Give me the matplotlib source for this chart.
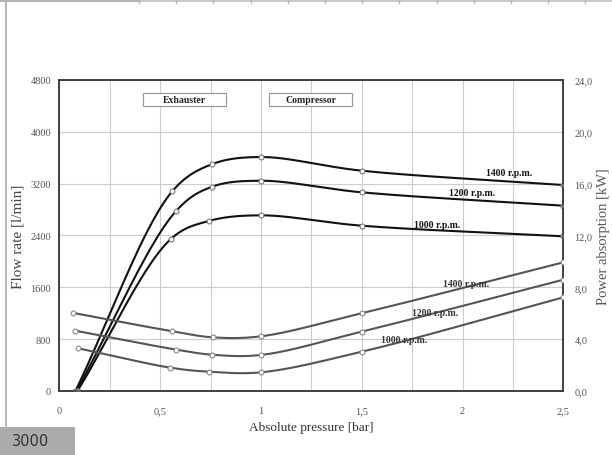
import numpy as np
import matplotlib
matplotlib.use("Agg")
import matplotlib.pyplot as plt
from matplotlib.patches import Rectangle
from matplotlib.lines import Line2D

# ---------------- data ----------------
speeds = ["1400 r.p.m.", "1200 r.p.m.", "1000 r.p.m."]

flow_x = {
    "1400": [0.08, 0.56, 0.755, 1.0, 1.5, 2.5],
    "1200": [0.085, 0.58, 0.755, 1.0, 1.5, 2.5],
    "1000": [0.09, 0.553, 0.74, 1.0, 1.5, 2.5],
}
flow_y = {
    "1400": [0, 3082, 3498, 3611, 3400, 3179],
    "1200": [0, 2782, 3150, 3245, 3066, 2860],
    "1000": [0, 2346, 2623, 2711, 2551, 2387],
}
power_x = {
    "1400": [0.07, 0.56, 0.76, 1.0, 1.5, 2.5],
    "1200": [0.08, 0.58, 0.757, 1.0, 1.5, 2.5],
    "1000": [0.094, 0.55, 0.74, 1.0, 1.5, 2.5],
}
power_y = {
    "1400": [6.02, 4.61, 4.14, 4.22, 6.00, 9.93],
    "1200": [4.65, 3.19, 2.80, 2.78, 4.58, 8.59],
    "1000": [3.29, 1.80, 1.49, 1.44, 3.03, 7.23],
}
flow_label_pos = {"1400": (2.23, 3375), "1200": (2.045, 3056), "1000": (1.875, 2562)}
power_label_pos = {"1400": (2.017, 8.26), "1200": (1.863, 6.02), "1000": (1.709, 4.01)}

x_ticks = [0, 0.5, 1, 1.5, 2, 2.5]
x_ticklabels = ["0", "0,5", "1", "1,5", "2", "2,5"]
left_ticks = [0, 800, 1600, 2400, 3200, 4000, 4800]
right_ticks = [0, 4, 8, 12, 16, 20, 24]
right_ticklabels = ["0,0", "4,0", "8,0", "12,0", "16,0", "20,0", "24,0"]


def smooth(x, y, sx, sy, n=40, alpha=0.5):
    """Centripetal Catmull-Rom smoothing in scaled (pixel-like) space."""
    P = np.column_stack([np.asarray(x, float) * sx, np.asarray(y, float) * sy])
    P = np.vstack([2 * P[0] - P[1], P, 2 * P[-1] - P[-2]])
    out = []
    for i in range(1, len(P) - 2):
        p0, p1, p2, p3 = P[i - 1], P[i], P[i + 1], P[i + 2]
        t0 = 0.0
        t1 = t0 + np.linalg.norm(p1 - p0) ** alpha
        t2 = t1 + np.linalg.norm(p2 - p1) ** alpha
        t3 = t2 + np.linalg.norm(p3 - p2) ** alpha
        t = np.linspace(t1, t2, n)[:, None]
        a1 = (t1 - t) / (t1 - t0) * p0 + (t - t0) / (t1 - t0) * p1
        a2 = (t2 - t) / (t2 - t1) * p1 + (t - t1) / (t2 - t1) * p2
        a3 = (t3 - t) / (t3 - t2) * p2 + (t - t2) / (t3 - t2) * p3
        b1 = (t2 - t) / (t2 - t0) * a1 + (t - t0) / (t2 - t0) * a2
        b2 = (t3 - t) / (t3 - t1) * a2 + (t - t1) / (t3 - t1) * a3
        c = (t2 - t) / (t2 - t1) * b1 + (t - t1) / (t2 - t1) * b2
        out.append(c if i == 1 else c[1:])
    out = np.vstack(out)
    return out[:, 0] / sx, out[:, 1] / sy


serif = "Liberation Serif"
fig = plt.figure(figsize=(6.12, 4.56), dpi=100)
ax = fig.add_axes([0.097, 0.1404, 0.9206 - 0.097, 0.8224 - 0.1404])
ax2 = ax.twinx()

ax.set_xlim(0, 2.5)
ax.set_ylim(0, 4800)
ax2.set_ylim(0, 24)

ax.set_xticks(x_ticks)
ax.set_xticklabels(x_ticklabels)
ax.set_xticks(np.arange(0.25, 2.5, 0.5), minor=True)
ax.set_yticks(left_ticks)
ax.set_yticklabels([str(v) for v in left_ticks])
ax2.set_yticks(right_ticks)
ax2.set_yticklabels(right_ticklabels)

ax.grid(True, which="both", color="#cccccc", lw=0.8)
ax.set_axisbelow(True)
ax.tick_params(which="both", length=0)
ax.tick_params(axis="x", pad=11, labelsize=7.5, labelcolor="#555555")
ax.tick_params(axis="y", pad=6, labelsize=7.5, labelcolor="#555555")
ax2.tick_params(length=0, pad=8, labelsize=7.5, labelcolor="#555555")
for lab in ax.get_xticklabels() + ax.get_yticklabels() + ax2.get_yticklabels():
    lab.set_family(serif)

for a in (ax, ax2):
    for s in a.spines.values():
        s.set_color("#3a3a3a")
        s.set_linewidth(1.1)

ax.set_xlabel("Absolute pressure [bar]", family=serif, fontsize=9.5, color="#333333", labelpad=4)
ax.set_ylabel("Flow rate [l/min]", family=serif, fontsize=11, color="#444444", labelpad=4)
ax2.set_ylabel("Power absorption [kW]", family=serif, fontsize=10.5, color="#555555",
               rotation=90, labelpad=3)

sx, sy = 201.6, 0.0648
for key in ["1400", "1200", "1000"]:
    xs, ys = smooth(flow_x[key], flow_y[key], sx, sy)
    ax.plot(xs, ys, color="#111111", lw=1.5, zorder=3)
    ax.plot(flow_x[key], flow_y[key], ls="none", marker="o", ms=3.5, mfc="white",
            mec="#777777", mew=0.8, zorder=4)
    lx, ly = flow_label_pos[key]
    ax.text(lx, ly, key + " r.p.m.", family=serif, fontsize=7, fontweight="bold",
            color="#111111", ha="center", va="center", zorder=5)

sy2 = 12.96
for key in ["1400", "1200", "1000"]:
    xs, ys = smooth(power_x[key], power_y[key], sx, sy2)
    ax2.plot(xs, ys, color="#555555", lw=1.5, zorder=3)
    ax2.plot(power_x[key], power_y[key], ls="none", marker="o", ms=3.5, mfc="white",
             mec="#888888", mew=0.8, zorder=4)
    lx, ly = power_label_pos[key]
    ax2.text(lx, ly, key + " r.p.m.", family=serif, fontsize=7, fontweight="bold",
             color="#333333", ha="center", va="center", zorder=5)

# Region boxes
for txt, x0, x1 in [("Exhauster", 143, 226), ("Compressor", 269, 352)]:
    fx0, fx1 = x0 / 612, x1 / 612
    fy0, fy1 = 1 - 107 / 456, 1 - 94 / 456
    fig.patches.append(Rectangle((fx0, fy0), fx1 - fx0, fy1 - fy0, transform=fig.transFigure,
                                 fill=True, fc="white", ec="#999999", lw=0.9, zorder=5))
    fig.text((fx0 + fx1) / 2, (fy0 + fy1) / 2, txt, family=serif, fontsize=7,
             fontweight="bold", color="#222222", ha="center", va="center", zorder=6)

# Screenshot chrome
fig.patches.append(Rectangle((0, 1 - 3 / 456), 139 / 612, 3 / 456, transform=fig.transFigure,
                             fc="#b3b3b3", ec="none"))
fig.lines.append(Line2D([139 / 612, 1], [1 - 1.5 / 456, 1 - 1.5 / 456], transform=fig.transFigure,
                        color="#c0c0c0", lw=1.2))
for sxp in np.arange(139, 612, 37.2):
    fig.lines.append(Line2D([sxp / 612, sxp / 612], [1, 1 - 3.5 / 456], transform=fig.transFigure,
                            color="#b8b8b8", lw=1.0))
fig.lines.append(Line2D([5.5 / 612, 5.5 / 612], [1 - 3 / 456, 1 - 428 / 456],
                        transform=fig.transFigure, color="#b0b0b0", lw=1.3))
fig.patches.append(Rectangle((0, 0), 75 / 612, 28 / 456, transform=fig.transFigure,
                             fc="#ababab", ec="none"))
fig.text(12 / 612, 1 - 442 / 456, "3000", fontsize=10.5, color="#333333",
         family="DejaVu Sans", ha="left", va="center")

fig.savefig("out.png", dpi=100)
